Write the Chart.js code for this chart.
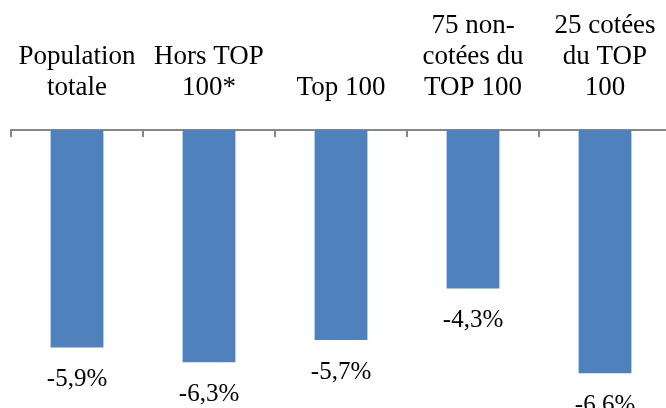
<!DOCTYPE html>
<html>
<head>
<meta charset="utf-8">
<script src="https://cdn.jsdelivr.net/npm/chart.js@4/dist/chart.umd.min.js"></script>
<style>
    html, body { margin: 0; padding: 0; background: #fff; overflow: hidden; }
    #wrap { width: 680px; height: 420px; }
</style>
</head>
<body>
<div id="wrap"><canvas id="evolChart" width="680" height="420"></canvas></div>
<script>
// catégories (libellés sur plusieurs lignes)
const categories = [
    ['Population', 'totale'],
    ['Hors TOP', '100*'],
    'Top 100',
    ['75 non-', 'cotées du', 'TOP 100'],
    ['25 cotées', 'du TOP', '100']
];
// variation en %
const values = [-5.9, -6.3, -5.7, -4.3, -6.6];
const axisMin = -7;
const axisMax = 0;

const fmt = v => v.toFixed(1).replace('.', ',') + '%';

// étiquettes de valeur sous chaque barre
const valueLabels = {
    id: 'valueLabels',
    afterDatasetsDraw(chart) {
        const ctx = chart.ctx;
        const meta = chart.getDatasetMeta(0);
        ctx.save();
        ctx.font = '25px "Liberation Serif"';
        ctx.fillStyle = '#000';
        ctx.textAlign = 'center';
        ctx.textBaseline = 'alphabetic';
        meta.data.forEach((bar, i) => {
            ctx.fillText(fmt(values[i]), bar.x, bar.y + 39);
        });
        ctx.restore();
    }
};

// petites graduations vers le bas entre les catégories
const axisTicks = {
    id: 'axisTicks',
    afterDraw(chart) {
        const x = chart.scales.x;
        const ctx = chart.ctx;
        const n = categories.length;
        const step = x.getPixelForValue(1) - x.getPixelForValue(0);
        ctx.save();
        ctx.strokeStyle = '#868686';
        ctx.lineWidth = 2;
        for (let i = 0; i <= n; i++) {
            const px = Math.round(x.getPixelForValue(0) - step / 2 + i * step);
            ctx.beginPath();
            ctx.moveTo(px, x.bottom);
            ctx.lineTo(px, x.bottom + 7);
            ctx.stroke();
        }
        ctx.restore();
    }
};

new Chart(document.getElementById('evolChart').getContext('2d'), {
    type: 'bar',
    data: {
        labels: categories,
        datasets: [{
            data: values,
            backgroundColor: '#4F81BD',
            borderWidth: 0,
            barPercentage: 0.4,
            categoryPercentage: 1.0
        }]
    },
    options: {
        responsive: false,
        animation: false,
        layout: { padding: { left: 11, right: 9, top: 0, bottom: 32 } },
        plugins: {
            legend: { display: false },
            tooltip: { enabled: false }
        },
        scales: {
            x: {
                position: 'top',
                afterFit: s => {
                    s.height = 130;
                    s.paddingLeft = 0;
                    s.paddingRight = 0;
                },
                grid: { display: false, drawTicks: false },
                border: { display: true, color: '#868686', width: 2 },
                ticks: {
                    autoSkip: false,
                    maxRotation: 0,
                    padding: 27,
                    color: '#000',
                    font: { family: 'Liberation Serif', size: 27, lineHeight: 1.14 }
                }
            },
            y: {
                display: false,
                min: axisMin,
                max: axisMax
            }
        }
    },
    plugins: [valueLabels, axisTicks]
});
</script>
</body>
</html>
